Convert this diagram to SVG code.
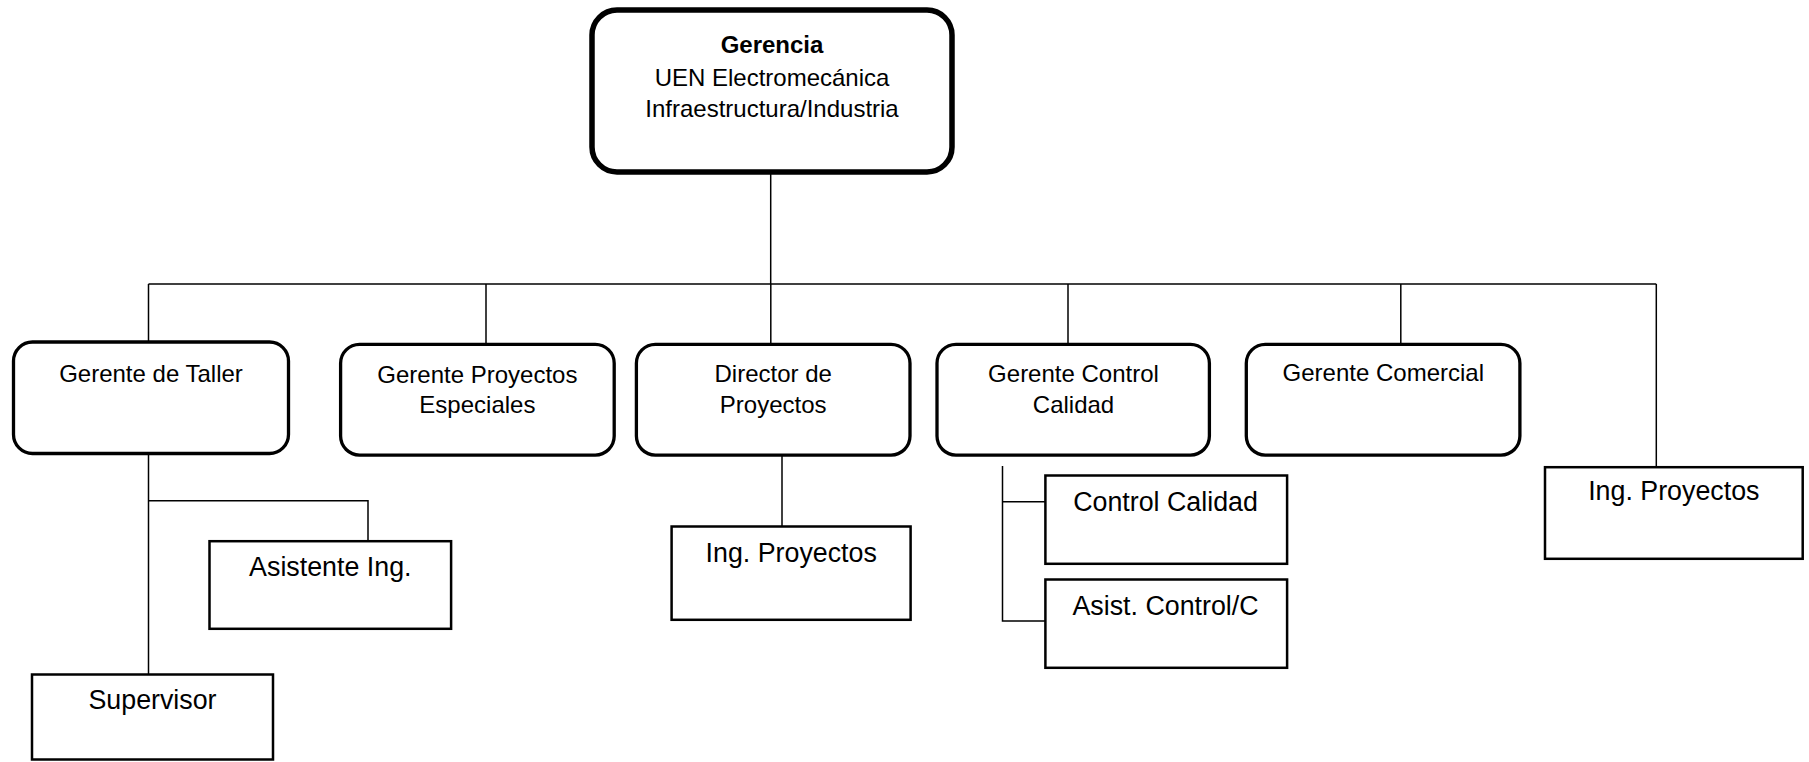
<svg xmlns="http://www.w3.org/2000/svg" width="1809" height="762" viewBox="0 0 1809 762">
<style>
  .bg { fill: #ffffff; }
  .top { fill: #ffffff; stroke: #000000; stroke-width: 5.5; }
  .rnd { fill: #ffffff; stroke: #000000; stroke-width: 3.3; }
  .box { fill: #ffffff; stroke: #000000; stroke-width: 2.5; }
  .conn { fill: none; stroke: #000000; stroke-width: 1.5; }
  text { font-family: "Liberation Sans", Arial, sans-serif; fill: #000000; text-anchor: middle; }
  .t23 { font-size: 24px; }
  .t26 { font-size: 26.8px; }
  .b { font-weight: bold; }
</style>
<rect class="bg" x="0" y="0" width="1809" height="762"/>
<g id="connectors">
  <path class="conn" d="M770.7 172 V284"/>
  <path class="conn" d="M148.5 284 H1656.3"/>
  <path class="conn" d="M148.5 284 V342"/>
  <path class="conn" d="M486 284 V344"/>
  <path class="conn" d="M770.8 284 V344"/>
  <path class="conn" d="M1068 284 V344"/>
  <path class="conn" d="M1400.8 284 V344"/>
  <path class="conn" d="M1656.3 284 V467"/>
  <path class="conn" d="M148.5 453.5 V674.5"/>
  <path class="conn" d="M148.5 500.7 H368 V541"/>
  <path class="conn" d="M782 455 V526.5"/>
  <path class="conn" d="M1002.5 466 V621 H1045"/>
  <path class="conn" d="M1002.5 501.7 H1045"/>
</g>
<g id="gerencia">
  <rect class="top" x="592" y="10" width="360" height="162" rx="25" ry="25"/>
  <text class="t23 b" x="772" y="53">Gerencia</text>
  <text class="t23" x="772" y="86">UEN Electromecánica</text>
  <text class="t23" x="772" y="117">Infraestructura/Industria</text>
</g>
<g id="gerente-taller">
  <rect class="rnd" x="13.5" y="342" width="275" height="111.5" rx="19" ry="19"/>
  <text class="t23" x="151" y="382">Gerente de Taller</text>
</g>
<g id="gerente-proyectos-especiales">
  <rect class="rnd" x="340.6" y="344.3" width="273.6" height="110.8" rx="19" ry="19"/>
  <text class="t23" x="477.4" y="383">Gerente Proyectos</text>
  <text class="t23" x="477.4" y="413">Especiales</text>
</g>
<g id="director-proyectos">
  <rect class="rnd" x="636.4" y="344.3" width="273.6" height="110.8" rx="19" ry="19"/>
  <text class="t23" x="773.2" y="382">Director de</text>
  <text class="t23" x="773.2" y="413">Proyectos</text>
</g>
<g id="gerente-control-calidad">
  <rect class="rnd" x="937" y="344.3" width="272.4" height="110.8" rx="19" ry="19"/>
  <text class="t23" x="1073.5" y="382">Gerente Control</text>
  <text class="t23" x="1073.5" y="413">Calidad</text>
</g>
<g id="gerente-comercial">
  <rect class="rnd" x="1246.3" y="344.3" width="273.6" height="110.8" rx="19" ry="19"/>
  <text class="t23" x="1383.3" y="381">Gerente Comercial</text>
</g>
<g id="asistente-ing">
  <rect class="box" x="209.5" y="541.2" width="241.6" height="87.6"/>
  <text class="t26" x="330.3" y="575.7">Asistente Ing.</text>
</g>
<g id="supervisor">
  <rect class="box" x="32" y="674.5" width="241" height="85"/>
  <text class="t26" x="152.5" y="709.3">Supervisor</text>
</g>
<g id="ing-proyectos-1">
  <rect class="box" x="671.6" y="526.5" width="239" height="93.3"/>
  <text class="t26" x="791.2" y="561.7">Ing. Proyectos</text>
</g>
<g id="control-calidad">
  <rect class="box" x="1045.4" y="475.5" width="241.7" height="88.3"/>
  <text class="t26" x="1165.5" y="510.7">Control Calidad</text>
</g>
<g id="asist-control">
  <rect class="box" x="1045.4" y="579.5" width="241.7" height="88.3"/>
  <text class="t26" x="1165.5" y="615">Asist. Control/C</text>
</g>
<g id="ing-proyectos-2">
  <rect class="box" x="1545" y="467.2" width="257.7" height="91.6"/>
  <text class="t26" x="1673.8" y="500">Ing. Proyectos</text>
</g>
</svg>
